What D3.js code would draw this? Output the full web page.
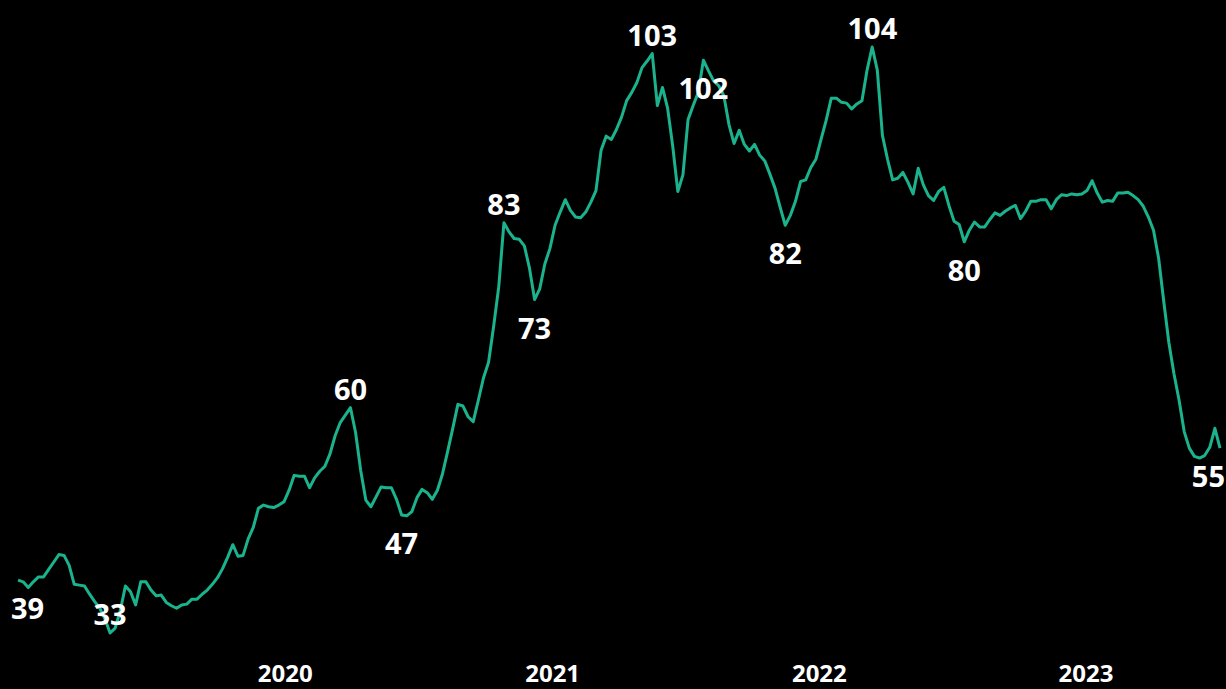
<!DOCTYPE html>
<html>
<head>
<meta charset="utf-8">
<script src="https://cdn.jsdelivr.net/npm/d3@7"></script>
<style>
  html, body { margin: 0; padding: 0; background: #000; overflow: hidden; }
  text { font-family: "Open Sans", "DejaVu Sans", sans-serif; font-weight: 700; fill: #fff; }
</style>
</head>
<body>
<script>
// Weekly series, first week starting 2019-01-01.
const startDate = "2019-01-01";
const values = [
    39.4, 39.2, 38.5, 39.2, 39.8, 39.8, 40.7, 41.6, 42.5, 42.4,
    41.2, 38.9, 38.8, 38.7, 37.7, 36.8, 36.0, 34.7, 33.0, 33.6,
    35.7, 38.7, 38.0, 36.4, 39.2, 39.2, 38.2, 37.5, 37.6, 36.7,
    36.3, 36.0, 36.4, 36.5, 37.1, 37.1, 37.7, 38.2, 38.9, 39.7,
    40.8, 42.2, 43.7, 42.3, 42.4, 44.4, 45.8, 48.1, 48.5, 48.3,
    48.2, 48.5, 48.9, 50.3, 52.1, 52.0, 52.0, 50.6, 51.8, 52.6,
    53.2, 54.7, 56.9, 58.5, 59.4, 60.3, 57.3, 52.7, 49.1, 48.3,
    49.5, 50.7, 50.6, 50.6, 49.2, 47.3, 47.2, 47.7, 49.4, 50.4,
    50.0, 49.2, 50.3, 52.3, 55.0, 57.8, 60.7, 60.5, 59.2, 58.6,
    61.2, 63.9, 65.8, 70.2, 75.0, 82.7, 81.6, 80.8, 80.7, 79.9,
    77.2, 73.4, 74.7, 77.7, 79.6, 82.4, 84.0, 85.5, 84.2, 83.4,
    83.3, 84.0, 85.2, 86.6, 91.5, 93.2, 92.8, 94.0, 95.5, 97.5,
    98.5, 99.7, 101.5, 102.3, 103.2, 96.9, 99.1, 96.6, 92.0, 86.5,
    88.5, 95.2, 96.9, 98.5, 102.4, 101.1, 99.9, 99.3, 98.1, 94.6,
    92.3, 93.9, 92.2, 91.4, 92.2, 90.9, 90.2, 88.6, 86.9, 84.6,
    82.4, 83.6, 85.3, 87.7, 87.9, 89.4, 90.4, 92.8, 95.1, 97.8,
    97.8, 97.3, 97.2, 96.5, 97.1, 97.5, 101.2, 104.0, 101.2, 93.3,
    90.4, 87.9, 88.1, 88.8, 87.6, 86.2, 89.3, 87.3, 86.0, 85.4,
    86.5, 87.0, 84.8, 82.9, 82.5, 80.4, 81.8, 82.8, 82.2, 82.2,
    83.1, 83.9, 83.6, 84.1, 84.5, 84.8, 83.2, 84.1, 85.3, 85.3,
    85.5, 85.5, 84.4, 85.5, 86.1, 86.0, 86.2, 86.1, 86.2, 86.6,
    87.8, 86.3, 85.2, 85.4, 85.3, 86.3, 86.3, 86.4, 86.0, 85.5,
    84.7, 83.4, 81.8, 78.4, 73.2, 68.2, 64.4, 61.2, 57.4, 55.4,
    54.4, 54.2, 54.5, 55.5, 57.8, 55.4
];

// Which points carry a value label, and on which side of the line.
const labelIdx = [0, 18, 65, 75, 95, 101, 124, 134, 150, 167, 185, 235];
const labelPos = ["below", "above", "above", "below", "above", "below",
                  "above", "below", "below", "above", "below", "below"];

const tickYears = ["2020", "2021", "2022", "2023"];

const width = 1226;
const height = 689;
const margin = {top: 47, right: 6, bottom: 56, left: 18};

const parse = d3.timeParse("%Y-%m-%d");
const start = parse(startDate);
const data = values.map((v, i) => ({date: d3.timeWeek.offset(start, i), value: v}));

const svg = d3.select('body').append('svg')
    .attr('width', width)
    .attr('height', height)
    .style('background', '#000');

const x = d3.scaleTime()
    .domain(d3.extent(data, d => d.date))
    .range([margin.left, width - margin.right]);

const y = d3.scaleLinear()
    .domain(d3.extent(data, d => d.value))
    .range([height - margin.bottom, margin.top]);

// line
const line = d3.line()
    .x(d => x(d.date))
    .y(d => y(d.value));

svg.append('path')
    .datum(data)
    .attr('fill', 'none')
    .attr('stroke', '#1bb38d')
    .attr('stroke-width', 3)
    .attr('stroke-linejoin', 'round')
    .attr('d', line);

// bottom axis, labels only
const xAxis = d3.axisBottom(x)
    .tickValues(tickYears.map(t => parse(t + "-01-01")))
    .tickFormat(d3.timeFormat("%Y"))
    .tickSize(0);

const gx = svg.append('g')
    .attr('transform', `translate(0, ${height - 7})`)
    .call(xAxis);
gx.select('.domain').remove();
gx.selectAll('text')
    .attr('y', 0)
    .attr('dy', 0)
    .attr('fill', '#fff')
    .style('font-size', '24px')
    .style('font-family', '"Open Sans", sans-serif')
    .style('font-weight', 700);

// value labels
const labels = svg.append('g')
    .selectAll('text')
    .data(labelIdx.map((idx, k) => ({d: data[idx], pos: labelPos[k]})))
    .join('text')
    .attr('text-anchor', 'middle')
    .style('font-size', '29px')
    .attr('x', l => x(l.d.date))
    .attr('y', l => l.pos === 'above' ? y(l.d.value) - 8 : y(l.d.value) + 39)
    .text(l => Math.round(l.d.value));

// keep labels inside the frame
labels.each(function () {
    const b = this.getBBox();
    let cx = b.x + b.width / 2;
    if (b.x < 11) cx = 11 + b.width / 2;
    if (b.x + b.width > width - 1) cx = width - 1 - b.width / 2;
    d3.select(this).attr('x', cx);
});
</script>
</body>
</html>
